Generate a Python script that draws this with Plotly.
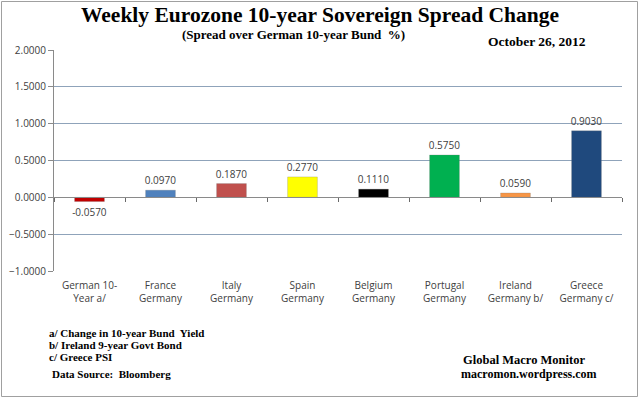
import plotly.graph_objects as go

categories = ["German 10-<br>Year a/", "France<br>Germany", "Italy<br>Germany", "Spain<br>Germany",
              "Belgium<br>Germany", "Portugal<br>Germany", "Ireland<br>Germany b/", "Greece<br>Germany c/"]
values = [-0.057, 0.097, 0.187, 0.277, 0.111, 0.575, 0.059, 0.903]
colors = ["#C00000", "#4F81BD", "#C0504D", "#FFFF00", "#000000", "#00B050", "#F79646", "#1F497D"]
y_ticks = [-1.0, -0.5, 0.0, 0.5, 1.0, 1.5, 2.0]

L, R, T, B = 54, 18, 50, 127
W, H = 640, 398
pw, ph = W - L - R, H - T - B

def px(x):
    return (x - L) / pw

def py(y):
    return (H - B - y) / ph

sans = "Open Sans"
fig = go.Figure()
fig.add_trace(go.Bar(
    x=categories, y=values,
    marker=dict(color=colors, line=dict(color="rgba(120,120,120,0.5)", width=0.5)),
    text=[f"{v:.4f}" for v in values], textposition="outside", constraintext="none",
    textfont=dict(family=sans, size=10, color="#404040"),
    cliponaxis=False,
))

serif = "Liberation Serif"
ann = [
    dict(text="<b>Weekly Eurozone 10-year Sovereign Spread Change</b>", x=px(320), y=py(15),
         font=dict(family=serif, size=21.5, color="#000")),
    dict(text="<b>(Spread over German 10-year Bund  %)</b>", x=px(293), y=py(34),
         font=dict(family=serif, size=13, color="#000")),
    dict(text="<b>October 26, 2012</b>", x=px(537), y=py(42),
         font=dict(family=serif, size=13.5, color="#000")),
]
notes = [("a/ Change in 10-year Bund  Yield", 333), ("b/ Ireland 9-year Govt Bond", 345),
         ("c/ Greece PSI", 357)]
for t, yy in notes:
    ann.append(dict(text=f"<b>{t}</b>", x=px(47), y=py(yy), xanchor="left",
                    font=dict(family=serif, size=11, color="#000")))
ann.append(dict(text="<b>Data Source:  Bloomberg</b>", x=px(50), y=py(374), xanchor="left",
                font=dict(family=serif, size=11, color="#000")))
ann.append(dict(text="<b>Global Macro Monitor</b>", x=px(461), y=py(360), xanchor="left",
                font=dict(family=serif, size=12.5, color="#000")))
ann.append(dict(text="<b>macromon.wordpress.com</b>", x=px(459), y=py(374), xanchor="left",
                font=dict(family=serif, size=12, color="#000")))
for a in ann:
    a.setdefault("xanchor", "center")
    a.update(xref="paper", yref="paper", yanchor="middle", showarrow=False)

fig.update_layout(
    width=W, height=H, margin=dict(l=L, r=R, t=T, b=B, autoexpand=False),
    paper_bgcolor="white", plot_bgcolor="white",
    bargap=0.58, showlegend=False, annotations=ann,
    shapes=[dict(type="rect", xref="paper", yref="paper", x0=px(1.5), x1=px(637.5),
                 y0=py(396.5), y1=py(1.5), line=dict(color="#A0A0A0", width=1))],
    xaxis=dict(type="category", range=[-0.5, len(categories) - 0.5],
               anchor="free", position=1/3, side="bottom",
               showline=True, linecolor="#8A8A8A",
               tickfont=dict(family=sans, size=10, color="#404040"),
               ticks="outside", ticklen=4, tickwidth=1, tickcolor="#6A6A6A",
               tickson="boundaries", ticklabelstandoff=79, showgrid=False, automargin=False),
    yaxis=dict(range=[-1.0, 2.0], tickvals=y_ticks, tickformat=".4f",
               tickfont=dict(family=sans, size=10, color="#404040"),
               showgrid=True, gridcolor="#8FA3BA", gridwidth=1,
               zeroline=False,
               showline=True, linecolor="#8A8A8A", ticks="outside", ticklen=5,
               tickcolor="#8A8A8A", automargin=False),
)
fig.write_html("out.html", config={"displayModeBar": False},
               post_script="document.body.style.margin='0';document.body.style.overflow='hidden';")
